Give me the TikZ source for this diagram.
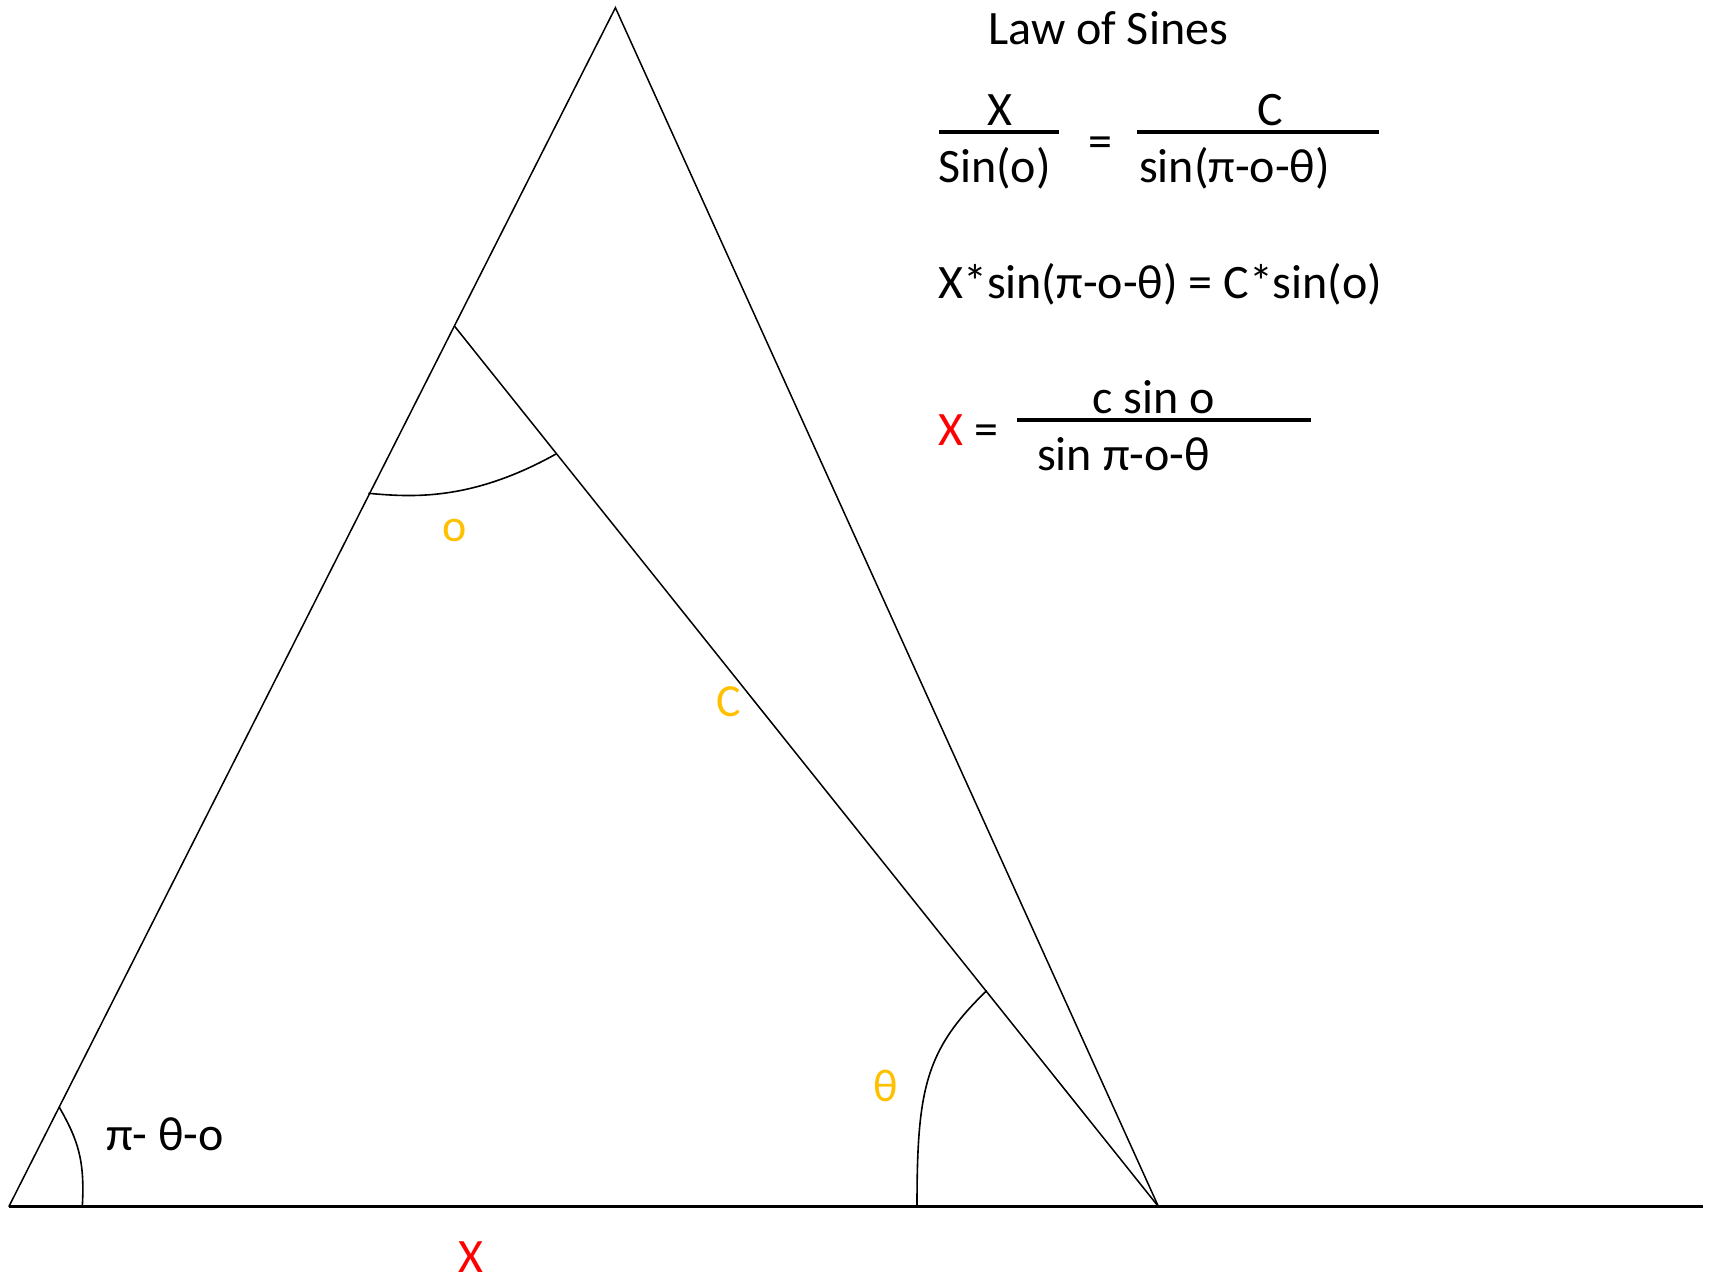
\documentclass[tikz,border=0pt]{standalone}
\usepackage{fontspec}
\setmainfont{Carlito}
\definecolor{gold}{HTML}{FFC000}
\definecolor{redx}{HTML}{FF0000}
\tikzset{
  txt/.style={inner sep=0pt, anchor=base west, font=\fontsize{48}{57}\selectfont},
  ctxt/.style={inner sep=0pt, anchor=base, font=\fontsize{48}{57}\selectfont},
  lbl/.style={inner sep=0pt, anchor=base, font=\fontsize{46}{55}\selectfont, text=gold},
  edge/.style={line width=1.5pt, black},
  arcl/.style={line width=1.6pt, black},
  bar/.style={line width=3.5pt, black}
}
\begin{document}
\begin{tikzpicture}[x=1pt,y=-1pt]
\useasboundingbox (0,0) rectangle (1717,1282);
% geometry
\coordinate (A) at (615.4,7.7);
\coordinate (L) at (8.8,1206.7);
\coordinate (R) at (1158.5,1206.7);
\coordinate (E) at (1702.7,1206.7);
\coordinate (D) at (454.8,326.5);
\draw[edge] (L) -- (A) -- (R);
\draw[line width=2.5pt] (L) -- (E);
\draw[edge] (D) -- (R);
% angle arcs
\draw[arcl] (368.3,493.3) .. controls (410,497) and (470,502) .. (556,454);
\draw[arcl] (986.7,990.7) .. controls (925,1050) and (917,1090) .. (917,1206.7);
\draw[arcl] (59,1106.7) .. controls (78,1140) and (85,1160) .. (82.3,1206.7);
% labels on figure
\node[lbl] (lo) at (455,541.7) {o};
\node[lbl] (lc) at (729,716.7) {C};
\node[lbl] (lt) at (886,1101.7) {θ};
\node[txt] (lpi) at (106,1150) {π- θ-o};
\node[ctxt, text=redx] (lx) at (471,1272) {X};
% formulas
\node[txt] (title) at (988,45) {Law of Sines};
\node[ctxt] (f1n) at (1000,125) {X};
\draw[bar] (939,132) -- (1059,132);
\node[txt] (f1d) at (938,182) {Sin(o)};
\node[ctxt] (eq1) at (1100.5,157) {=};
\node[ctxt] (f2n) at (1270,125) {C};
\draw[bar] (1137,132) -- (1379,132);
\node[txt] (f2d) at (1139,182) {sin(π-o-θ)};
\node[txt] (line2) at (938,298) {X*sin(π-o-θ) = C*sin(o)};
\node[txt, text=redx] (xr) at (938,445) {X};
\node[txt] (eq2) at (974,445) {=};
\draw[bar] (1017,420) -- (1311,420);
\node[txt] (f3n) at (1092,413) {c sin o};
\node[txt] (f3d) at (1037,470) {sin π-o-θ};
\end{tikzpicture}
\end{document}
